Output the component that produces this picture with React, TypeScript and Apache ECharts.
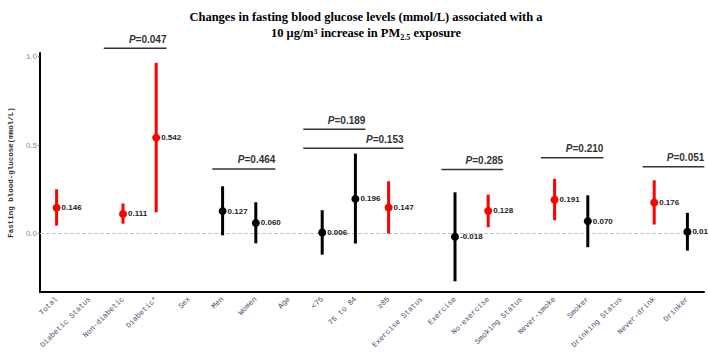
import React, { useEffect, useRef } from "react";
import * as echarts from "echarts";

const categories = [
  "Total", "Diabetic Status", "Non-diabetic", "Diabetic*", "Sex", "Men", "Women", "Age",
  "<75", "75 to 84", "≥85", "Exercise Status", "Exercise", "No-exercise", "Smoking Status",
  "Never-smoke", "Smoker", "Drinking Status", "Never-drink", "Drinker",
];
const estimates: (number | null)[] = [
  0.146, null, 0.111, 0.542, null, 0.127, 0.06, null, 0.006, 0.196, 0.147, null,
  -0.018, 0.128, null, 0.191, 0.07, null, 0.176, 0.01,
];
const estimateLabels = [
  "0.146", "", "0.111", "0.542", "", "0.127", "0.060", "", "0.006", "0.196", "0.147", "",
  "-0.018", "0.128", "", "0.191", "0.070", "", "0.176", "0.01",
];
const ciLower: (number | null)[] = [
  0.045, null, 0.056, 0.12, null, -0.01, -0.055, null, -0.119, -0.056, 0.0, null,
  -0.27, 0.036, null, 0.075, -0.077, null, 0.051, -0.096,
];
const ciUpper: (number | null)[] = [
  0.25, null, 0.17, 0.965, null, 0.267, 0.177, null, 0.132, 0.452, 0.296, null,
  0.233, 0.22, null, 0.309, 0.216, null, 0.301, 0.117,
];
const significant = [
  true, false, true, true, false, false, false, false, false, false, true, false,
  false, true, false, true, false, false, true, false,
];
const yTicks = [0, 0.5, 1.0];
const pLabels = ["0.047", "0.464", "0.189", "0.153", "0.285", "0.210", "0.051"];
const pStart = [1.42, 4.69, 7.43, 7.43, 11.59, 14.59, 17.65];
const pEnd = [3.31, 6.59, 9.3, 10.45, 13.45, 16.47, 19.51];
const pLevel = [1.047, 0.365, 0.59, 0.482, 0.362, 0.428, 0.377];

const RED = "#ff0000";
const BLACK = "#000000";

export default function App() {
  const ref = useRef<HTMLDivElement>(null);
  useEffect(() => {
    if (!ref.current) return;
    document.body.style.margin = "0";
    document.body.style.overflow = "hidden";
    const chart = echarts.init(ref.current, undefined, { renderer: "svg" });

    const pointData: any[] = [];
    const barData: any[] = [];
    categories.forEach((_, i) => {
      const e = estimates[i];
      if (e === null) return;
      const c = significant[i] ? RED : BLACK;
      pointData.push({ value: [i, e], itemStyle: { color: c, opacity: 1 } });
      barData.push({ value: [i, ciLower[i], ciUpper[i]] });
    });
    const bracketData = pLabels.map((_, k) => [0, pLevel[k], pStart[k], pEnd[k]]);

    const option: any = {
      animation: false,
      graphic: [
        {
          type: "text",
          x: 366,
          y: 9,
          style: {
            text:
              "Changes in fasting blood glucose levels (mmol/L) associated with a\n10 μg/m³ increase in PM{sub|2.5} exposure",
            align: "center",
            verticalAlign: "top",
            fontFamily: "Liberation Serif",
            fontWeight: "bold",
            fontSize: 12.5,
            lineHeight: 16,
            fill: "#000",
            rich: {
              sub: {
                fontFamily: "Liberation Serif",
                fontWeight: "bold",
                fontSize: 8,
                verticalAlign: "bottom",
                lineHeight: 16,
                fill: "#000",
              },
            },
          },
        },
      ],
      grid: {
        left: 40,
        right: 4,
        top: 53,
        bottom: 61,
        containLabel: false,
        outerBoundsMode: "none",
      },
      xAxis: {
        type: "category",
        data: categories,
        boundaryGap: true,
        axisLine: { onZero: false, lineStyle: { color: "#000", width: 2 } },
        axisTick: { alignWithLabel: true, length: 3, lineStyle: { color: "#000" } },
        axisLabel: {
          interval: 0,
          rotate: 45,
          margin: 6,
          fontFamily: "Liberation Mono",
          fontSize: 7.6,
          color: "#4b4b70",
        },
        splitLine: { show: false },
      },
      yAxis: {
        type: "value",
        min: -0.33,
        max: 1.02,
        name: "Fasting blood-glucose(mmol/L)",
        nameLocation: "middle",
        nameGap: 22,
        nameTextStyle: { fontFamily: "Liberation Mono", fontSize: 7.5, color: "#333", fontWeight: "bold" },
        axisLine: { show: true, onZero: false, lineStyle: { color: "#000", width: 2 } },
        axisTick: { show: true, customValues: yTicks, length: 2, lineStyle: { color: "#555" } },
        axisLabel: {
          customValues: yTicks,
          formatter: (v: number) => v.toFixed(1),
          margin: 3,
          fontFamily: "Liberation Sans",
          fontSize: 8,
          color: "#7a88b8",
        },
        splitLine: { show: false },
      },
      series: [
        {
          type: "custom",
          name: "ci",
          data: barData,
          encode: { x: 0, y: [1, 2] },
          renderItem: (params: any, api: any) => {
            const i = api.value(0);
            const lo = api.coord([i, api.value(1)]);
            const hi = api.coord([i, api.value(2)]);
            const c = significant[i] ? RED : BLACK;
            return {
              type: "line",
              shape: { x1: lo[0], y1: lo[1], x2: hi[0], y2: hi[1] },
              style: { stroke: c, lineWidth: 3 },
            };
          },
          z: 2,
        },
        {
          type: "scatter",
          name: "est",
          data: pointData,
          symbolSize: 8,
          z: 3,
          label: {
            show: true,
            position: "right",
            distance: 1,
            formatter: (p: any) => estimateLabels[p.value[0]],
            fontFamily: "Liberation Sans",
            fontWeight: "bold",
            fontSize: 8,
            color: "#222",
          },
          markLine: {
            silent: true,
            symbol: "none",
            label: { show: false },
            lineStyle: { type: "dashed", color: "#c4c4c4", width: 1 },
            data: [{ yAxis: 0 }],
            z: 1,
          },
        },
        {
          type: "custom",
          name: "brackets",
          clip: false,
          data: bracketData,
          encode: { x: 0, y: 1 },
          renderItem: (params: any, api: any) => {
            const k = params.dataIndex;
            const base = api.coord([0, api.value(1)]);
            const band = api.size([1, 0])[0];
            const x1 = base[0] + api.value(2) * band;
            const x2 = base[0] + api.value(3) * band;
            const y = base[1];
            return {
              type: "group",
              children: [
                {
                  type: "line",
                  shape: { x1, y1: y, x2, y2: y },
                  style: { stroke: "#333", lineWidth: 1.5 },
                },
                {
                  type: "text",
                  x: x2,
                  y: y - 4,
                  style: {
                    text: "{i|P}{n|=" + pLabels[k] + "}",
                    align: "right",
                    verticalAlign: "bottom",
                    rich: {
                      i: {
                        fontFamily: "Liberation Sans",
                        fontStyle: "italic",
                        fontWeight: "bold",
                        fontSize: 10,
                        fill: "#333",
                      },
                      n: {
                        fontFamily: "Liberation Sans",
                        fontWeight: "bold",
                        fontSize: 10,
                        fill: "#333",
                      },
                    },
                  },
                },
              ],
            };
          },
        },
      ],
    };
    chart.setOption(option);
    return () => chart.dispose();
  }, []);
  return (
    <div
      ref={ref}
      style={{ position: "absolute", left: 0, top: 0, width: 708, height: 353, overflow: "hidden" }}
    />
  );
}
